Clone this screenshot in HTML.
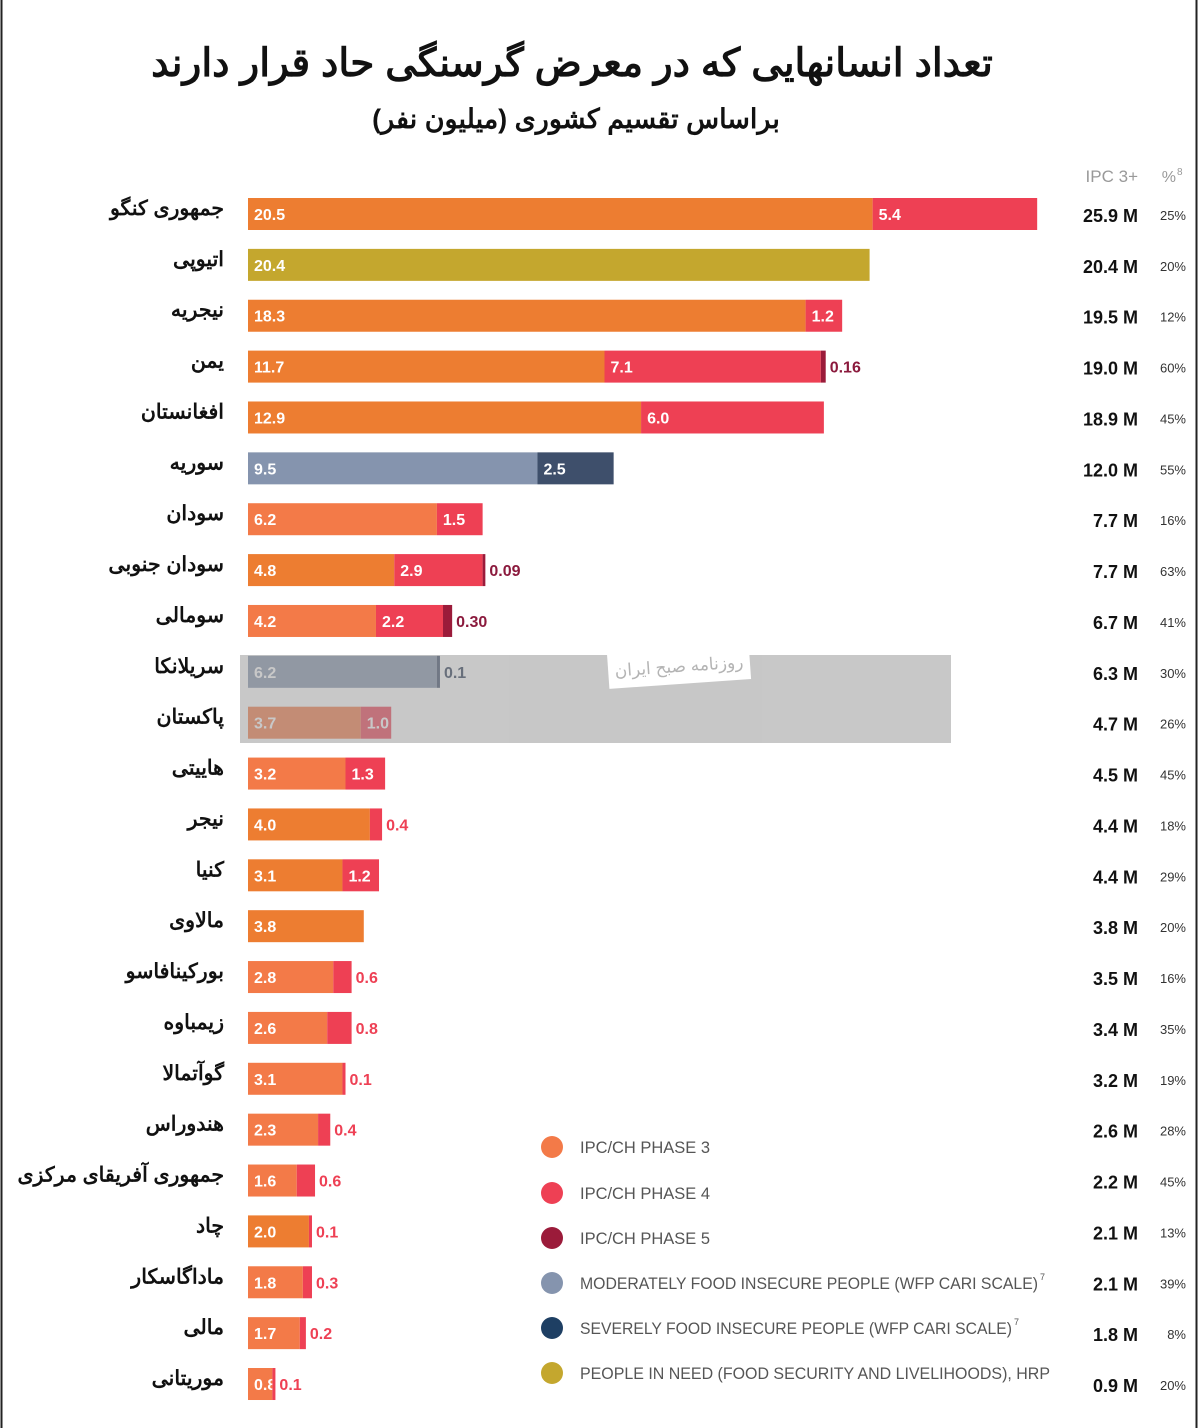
<!DOCTYPE html>
<html><head><meta charset="utf-8"><style>
html,body{margin:0;padding:0;background:#fff}
svg{display:block}
</style></head><body>
<svg id="chart" width="1200" height="1428" viewBox="0 0 1200 1428" xmlns="http://www.w3.org/2000/svg">
<rect x="0" y="0" width="1200" height="1428" fill="#fff"/>
<line x1="1.5" y1="0" x2="1.5" y2="1428" stroke="#222" stroke-width="2"/>
<line x1="1196.5" y1="0" x2="1196.5" y2="1428" stroke="#222" stroke-width="2"/>
<text x="572" y="76" text-anchor="middle" font-family="'Liberation Sans','Noto Sans CJK SC',sans-serif" font-weight="bold" font-size="39" fill="#111" direction="rtl">تعداد انسانهایی که در معرض گرسنگی حاد قرار دارند</text>
<text x="576" y="128" text-anchor="middle" font-family="'Liberation Sans','Noto Sans CJK SC',sans-serif" font-weight="bold" font-size="27" fill="#111" direction="rtl">براساس تقسیم کشوری (میلیون نفر)</text>
<text x="1138" y="182" text-anchor="end" font-family="'Liberation Sans',sans-serif" font-size="17" fill="#999">IPC 3+</text>
<text x="1176" y="182" text-anchor="end" font-family="'Liberation Sans',sans-serif" font-size="16" fill="#999">%</text>
<text x="1177" y="175" font-family="'Liberation Sans',sans-serif" font-size="10" fill="#999">8</text>
<g id="bars"></g>
<g id="legend"></g>
<g opacity="0.55">
<rect x="240" y="655" width="711" height="88" fill="#9a9a9a"/>
<rect x="608" y="648" width="142" height="36" fill="#fff" transform="rotate(-4 679 666)"/>
<text x="679" y="672" text-anchor="middle" font-family="'Liberation Sans',sans-serif" font-size="17" fill="#777" direction="rtl" transform="rotate(-4 679 666)">روزنامه صبح ایران</text>
</g>
</svg>
<script>
const countries = ["جمهوری کنگو","اتیوپی","نیجریه","یمن","افغانستان","سوریه","سودان","سودان جنوبی","سومالی","سریلانکا","پاکستان","هاییتی","نیجر","کنیا","مالاوی","بورکینافاسو","زیمباوه","گوآتمالا","هندوراس","جمهوری آفریقای مرکزی","چاد","ماداگاسکار","مالی","موریتانی"];
const phase3 = [20.5,0,18.3,11.7,12.9,0,6.2,4.8,4.2,0,3.7,3.2,4.0,3.1,3.8,2.8,2.6,3.1,2.3,1.6,2.0,1.8,1.7,0.8];
const phase4 = [5.4,0,1.2,7.1,6.0,0,1.5,2.9,2.2,0,1.0,1.3,0.4,1.2,0,0.6,0.8,0.1,0.4,0.6,0.1,0.3,0.2,0.1];
const phase5 = [0,0,0,0.16,0,0,0,0.09,0.30,0,0,0,0,0,0,0,0,0,0,0,0,0,0,0];
const moderate = [0,0,0,0,0,9.5,0,0,0,6.2,0,0,0,0,0,0,0,0,0,0,0,0,0,0];
const severe = [0,0,0,0,0,2.5,0,0,0,0.1,0,0,0,0,0,0,0,0,0,0,0,0,0,0];
const pin = [0,20.4,0,0,0,0,0,0,0,0,0,0,0,0,0,0,0,0,0,0,0,0,0,0];
const totals = ["25.9 M","20.4 M","19.5 M","19.0 M","18.9 M","12.0 M","7.7 M","7.7 M","6.7 M","6.3 M","4.7 M","4.5 M","4.4 M","4.4 M","3.8 M","3.5 M","3.4 M","3.2 M","2.6 M","2.2 M","2.1 M","2.1 M","1.8 M","0.9 M"];
const pcts = ["25%","20%","12%","60%","45%","55%","16%","63%","41%","30%","26%","45%","18%","29%","20%","16%","35%","19%","28%","45%","13%","39%","8%","20%"];
const phase3Shade = [0,0,0,0,0,0,1,0,1,0,1,1,0,0,0,1,1,1,1,1,0,1,1,1];
const legendLabels = ["IPC/CH PHASE 3","IPC/CH PHASE 4","IPC/CH PHASE 5","MODERATELY FOOD INSECURE PEOPLE (WFP CARI SCALE)","SEVERELY FOOD INSECURE PEOPLE (WFP CARI SCALE)","PEOPLE IN NEED (FOOD SECURITY AND LIVELIHOODS), HRP"];

const NS="http://www.w3.org/2000/svg";
const x0=248, pxPer=30.47, rowY0=214, rowStep=50.87, barH=32;
const xS=v=>v*pxPer;
const yS=i=>rowY0+i*rowStep;
const colors={p3:"#ED7D31",p3b:"#F37A48",p4:"#EE4054",p5:"#9B1B3A",mod:"#8594AE",sev:"#3E4F6B",pin:"#C4A72E"};
const lblColors={p4:"#EE4054",p5:"#8B1A3D",sev:"#2A3A55"};
const bars=document.getElementById('bars');
function mk(tag,attrs){const e=document.createElementNS(NS,tag);for(const k in attrs)e.setAttribute(k,attrs[k]);return e;}
const fmt=(v,k)=>{ if(k==='p5'&&v<1) return v.toFixed(2); return v.toFixed(1); };
countries.forEach((c,i)=>{
  const cy=yS(i);
  const t=mk('text',{x:224,y:cy+1,'text-anchor':'start','font-family':"'Liberation Sans','Noto Sans CJK SC',sans-serif",'font-weight':'bold','font-size':20.5,fill:'#111',direction:'rtl'});
  
  
  t.textContent=c; bars.appendChild(t);
  const segs=[["p3",phase3[i]],["pin",pin[i]],["mod",moderate[i]],["p4",phase4[i]],["sev",severe[i]],["p5",phase5[i]]];
  let x=x0; let first=true;
  segs.forEach(([k,v])=>{
    if(!v) return;
    const w=xS(v);
    let fill=colors[k]; if(k==='p3'&&phase3Shade[i]) fill=colors.p3b;
    const r=mk('rect',{x:x,y:cy-barH/2,width:w,height:barH,fill:fill});
    
    
    bars.appendChild(r);
    const inside = first || v>=0.9;
    const lx = inside ? x+6 : x+w+4;
    const lab=mk('text',{x:lx,y:cy+6,'font-family':"'Liberation Sans',sans-serif",'font-weight':'bold','font-size':16,fill: inside?'#fff':lblColors[k]});
    
    
    lab.textContent=fmt(v,k); bars.appendChild(lab);
    x+=w; first=false;
  });
  const tt=mk('text',{x:1138,y:cy+8,'text-anchor':'end','font-family':"'Liberation Sans',sans-serif",'font-weight':'bold','font-size':18,fill:'#111'});
  
  
  tt.textContent=totals[i]; bars.appendChild(tt);
  const pt=mk('text',{x:1186,y:cy+6,'text-anchor':'end','font-family':"'Liberation Sans',sans-serif",'font-size':13,fill:'#333'});
  
  
  pt.textContent=pcts[i]; bars.appendChild(pt);
});
const lg=document.getElementById('legend');
const lgCols=[colors.p3b,colors.p4,colors.p5,colors.mod,"#1E3F63",colors.pin];
const lgLens=[130,130,130,458,432,470];
const lgY=[1147,1193,1238,1283,1328,1373];
legendLabels.forEach((l,i)=>{
  const c=mk('circle',{cx:552,cy:lgY[i],r:11,fill:lgCols[i]});
  
  
  lg.appendChild(c);
  const t=mk('text',{x:580,y:lgY[i]+6,'font-family':"'Liberation Sans',sans-serif",'font-size':17,fill:'#555',textLength:lgLens[i],lengthAdjust:'spacingAndGlyphs'});
  
  
  t.textContent=l; lg.appendChild(t);
  if(i===3||i===4){
    const s=mk('text',{x:580+lgLens[i]+2,y:lgY[i]-3,'font-family':"'Liberation Sans',sans-serif",'font-size':9,fill:'#555'});
    
    
    s.textContent='7'; lg.appendChild(s);
  }
});
</script>
</body></html>
